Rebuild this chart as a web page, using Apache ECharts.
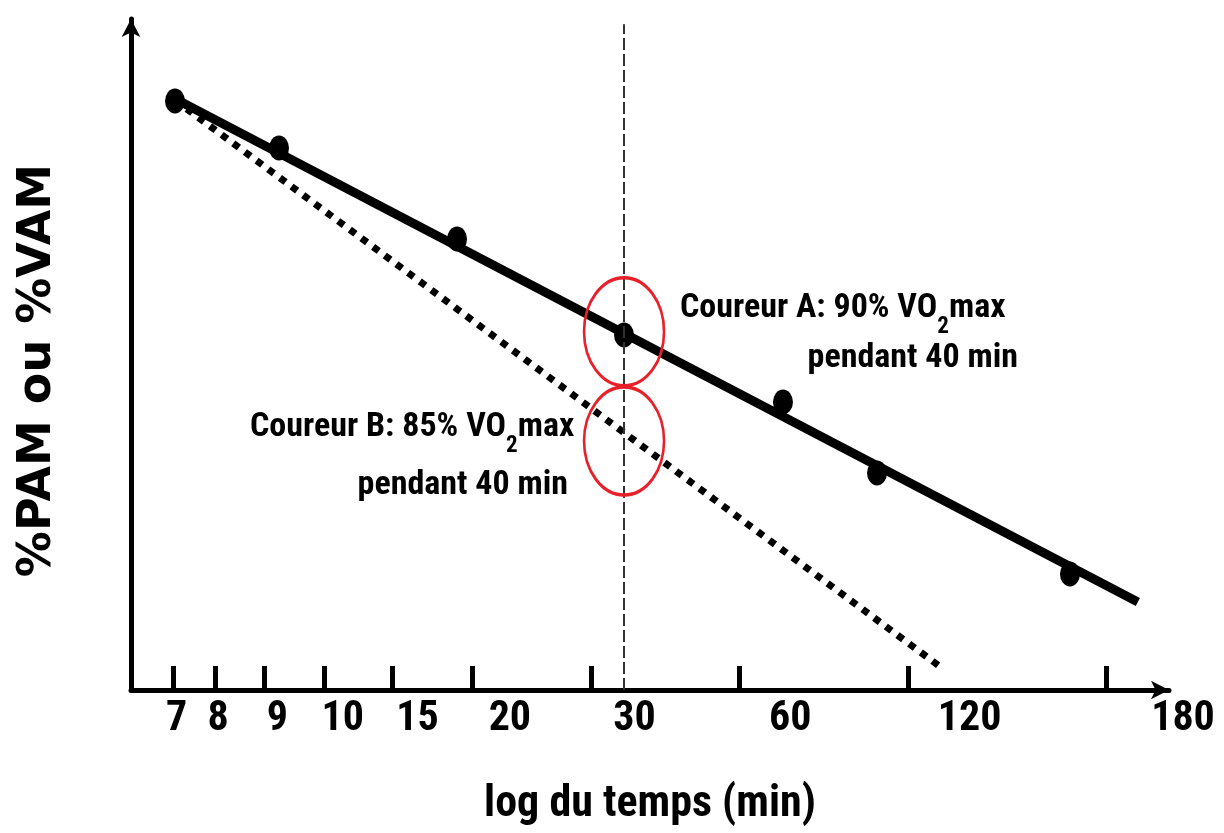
<!DOCTYPE html>
<html>
<head>
<meta charset="utf-8">
<script src="https://cdn.jsdelivr.net/npm/echarts@6/dist/echarts.min.js"></script>
<style>
  html, body { margin: 0; padding: 0; background: #fff; }
  #chart { width: 1224px; height: 833px; }
</style>
</head>
<body>
<div id="chart"></div>
<script>
// Horizontal scale: relative position along the (schematic) log-time axis, 0..100
const tickLabels = ['7', '8', '9', '10', '15', '20', '30', '60', '120', '180'];
const labelPos   = [4.4, 8.4, 14.1, 20.4, 27.6, 36.5, 48.5, 63.5, 80.8, 100];
const tickPos    = [4.05, 8.1, 12.8, 18.6, 25.2, 32.85, 44.3, 58.6, 74.9, 94.0];

// Runner A: measured efforts (relative intensity, arbitrary units)
const effortX = [4.24, 14.26, 31.41, 47.5, 62.81, 71.87, 90.46];
const effortY = [87.78, 80.77, 67.21, 52.91, 42.92, 32.34, 17.29];

// Fitted lines: runner A (solid) and runner B (dotted)
const lineAX = [4.24, 97.0];
const lineAY = [88.1, 13.1];
const lineBX = [4.24, 78.1];
const lineBY = [87.9, 3.3];

// Reference duration (dashed vertical) and the highlighted intersections
const refX = 47.5;
const refTop = 99.2;
const ringY = [53.4, 37.1];

const narrow = '"Roboto Condensed", "DejaVu Sans Condensed", sans-serif';

const pairs = (xs, ys) => xs.map((x, i) => [x, ys[i]]);

const chart = echarts.init(document.getElementById('chart'), null, { renderer: 'canvas' });

function titleLine(text, sub, tail) {
  return '{t|' + text + '}{s|' + sub + '}{t|' + tail + '}';
}

const richMain = {
  t: { fontFamily: narrow, fontWeight: 'bold', fontSize: 34, lineHeight: 40, verticalAlign: 'top', color: '#000' },
  s: { fontFamily: narrow, fontWeight: 'bold', fontSize: 23, lineHeight: 24, verticalAlign: 'top', padding: [25, 0, 0, 0], color: '#000' }
};

function annotation(x, y, text, align, rich) {
  return {
    type: 'text', x: x, y: y, silent: true,
    style: {
      text: text, rich: rich,
      fontFamily: narrow, fontWeight: 'bold', fontSize: 34, fill: '#000',
      align: align, textAlign: align, verticalAlign: 'top', textVerticalAlign: 'top'
    }
  };
}

chart.setOption({
  animation: false,
  backgroundColor: '#fff',
  grid: { left: 131, right: 55, top: 19, bottom: 143, outerBoundsMode: 'none' },
  xAxis: {
    type: 'value', min: 0, max: 100,
    name: 'log du temps (min)', nameLocation: 'middle', nameGap: 93,
    nameTextStyle: { fontFamily: narrow, fontWeight: 'bold', fontSize: 44, color: '#000' },
    splitLine: { show: false },
    axisLine: { show: true, onZero: false, symbol: ['none', 'arrow'], symbolSize: [14, 18],
      lineStyle: { color: '#000', width: 5 } },
    axisTick: { show: true, inside: true, length: 24, customValues: tickPos,
      lineStyle: { color: '#000', width: 5 } },
    axisLabel: {
      show: true, margin: 8, customValues: labelPos,
      fontFamily: narrow, fontWeight: 'bold', fontSize: 42, color: '#000',
      formatter: function (v) {
        let best = 0;
        labelPos.forEach((p, i) => { if (Math.abs(p - v) < Math.abs(labelPos[best] - v)) best = i; });
        return best === labelPos.length - 1 ? '{last|' + tickLabels[best] + '}' : tickLabels[best];
      },
      rich: { last: { fontFamily: narrow, fontWeight: 'bold', fontSize: 42, color: '#000', padding: [0, 0, 0, 28] } }
    }
  },
  yAxis: {
    type: 'value', min: 0, max: 100,
    name: '%PAM ou %VAM', nameLocation: 'middle', nameGap: 70, nameRotate: 90,
    nameTextStyle: { fontFamily: 'DejaVu Sans', fontWeight: 'bold', fontSize: 46, color: '#000', padding: [0, 32, 0, 0] },
    splitLine: { show: false },
    axisTick: { show: false },
    axisLabel: { show: false },
    axisLine: { show: true, onZero: false, symbol: ['none', 'arrow'], symbolSize: [14, 18],
      lineStyle: { color: '#000', width: 5 } }
  },
  series: [
    {
      name: 'Coureur B', type: 'line', data: pairs(lineBX, lineBY), symbol: 'none', z: 2,
      lineStyle: { color: '#000', width: 7, type: [7, 7.5], cap: 'butt' }
    },
    {
      name: 'Coureur A', type: 'line', data: pairs(lineAX, lineAY), symbol: 'none', z: 3,
      lineStyle: { color: '#000', width: 9, cap: 'butt' },
      markLine: {
        silent: true, symbol: 'none', label: { show: false },
        lineStyle: { color: '#333', width: 2, type: [12, 4] },
        data: [[{ coord: [refX, 0] }, { coord: [refX, refTop] }]]
      }
    },
    {
      name: 'Efforts', type: 'scatter', data: pairs(effortX, effortY), z: 4,
      symbol: 'circle', symbolSize: [20, 25], itemStyle: { color: '#000', opacity: 1 }
    },
    {
      name: 'Repères', type: 'scatter', data: ringY.map(y => [refX, y]), z: 5,
      symbol: 'circle', symbolSize: [80, 108],
      itemStyle: { color: 'rgba(0,0,0,0)', borderColor: '#e8202a', borderWidth: 3, opacity: 1 }
    }
  ],
  graphic: [
    annotation(680, 291, titleLine('Coureur A: 90% VO', '2', 'max'), 'left', richMain),
    annotation(1018, 341, 'pendant 40 min', 'right'),
    annotation(250, 410, titleLine('Coureur B: 85% VO', '2', 'max'), 'left', richMain),
    annotation(568, 468, 'pendant 40 min', 'right')
  ]
});
</script>
</body>
</html>
